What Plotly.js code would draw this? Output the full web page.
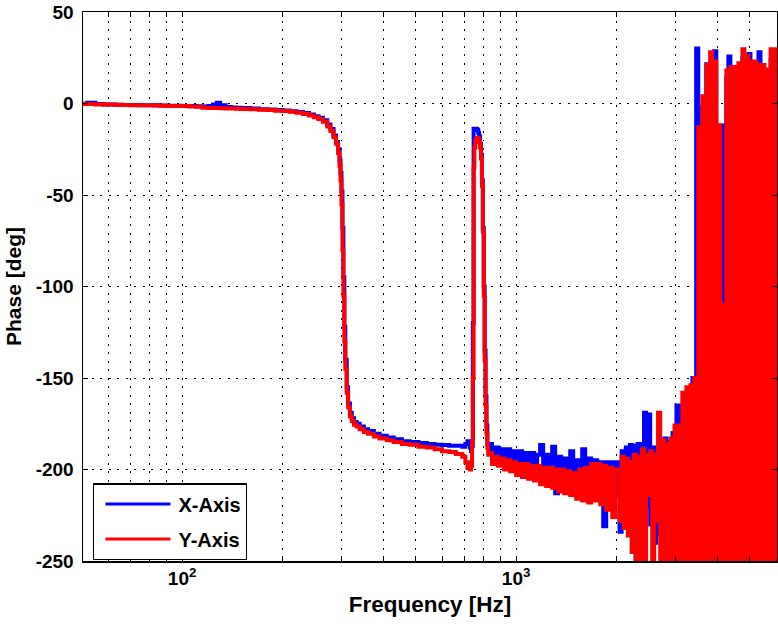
<!DOCTYPE html>
<html><head><meta charset="utf-8">
<script src="https://cdn.plot.ly/plotly-3.0.1.min.js"></script>
<style>html,body{margin:0;padding:0;background:#fff}#chart{width:778px;height:629px}</style>
</head><body><div id="chart"></div>
<script>
// Frequency bins (Hz), shared by both series
const freqHz = [50,52,55,58,60,63,66,70,74,78,82,86,90,95,100,105,110,115,120,124,127,130,135,140,145,150,160,170,180,190,200,210,220,230,240,248,256,264,272,278,284,289,293,296,298,300,302,304,306,308,311,314,318,322,327,333,340,350,360,375,390,410,430,455,480,510,540,570,600,630,660,690,705,715,722,728,733,738,742,746,750,755,760,765,770,775,780,785,790,795,800,805,810,815,820,825,
830,847,865,883,902,921,940,960,980,1000,1021,1042,1064,1086,1109,1132,1156,1180,1205,1230,1256,1282,1309,1336,1364,1393,1422,1452,1482,1513,1545,1577,1610,1644,1678,1713,1749,1786,1823,1861,1900,1940,1980,
2010,2040,2070,2100,2130,2160,2190,2220,2250,2280,2310,2345,2380,2415,2450,2485,2520,2555,2590,2625,2660,2700,2740,2780,2820,2860,2900,2940,2980,3020,3060,3100,3145,3190,3235,3280,3325,3370,3415,
3460,3510,3560,3610,3660,3710,3760,3810,3865,3920,3975,4030,4085,4120,4140,4160,4200,4260,4320,4380,4440,4500,4565,4630,4695,4760,4825,4890,4960,5030,5100,5170,5240,5315,5390,5465,5540,5620,5700,5780,5860,5940,6020,6060];

// X-Axis phase (deg)
const phaseX = [-0.2,0.4,-0.3,-0.5,-0.5,-0.7,-0.8,-0.8,-0.9,-1.0,-1.0,-1.1,-1.2,-1.2,-1.3,-1.4,-1.5,-1.7,-1.3,-0.5,0.4,-1.0,-1.9,-2.2,-2.3,-2.5,-2.8,-3.1,-3.3,-3.6,-3.8,-4.2,-4.6,-5.2,-6.0,-6.9,-7.8,-9.2,-11.5,-14,-17.5,-21,-25,-31,-38,-48,-68,-95,-122,-140,-155,-164,-169,-172,-174,-175,-176.5,-178,-179,-180.5,-181.5,-182.5,-183.5,-184.5,-185,-185.5,-186,-186.5,-186.6,-187,-187,-187.5,-186,-184.5,-186,-188,-190,-187,-120,-14,-13.8,-13.8,-14,-14.5,-16,-18,-22,-28,-42,-68,-100,-135,-160,-176,-186,-188,
-186,-192,-188,-193,-189,-194,-189,-195,-190,-196,-190,-204,-191,-197,-191,-198,-192,-186.6,-199,-192,-200,-187.5,-213,-193,-201,-194,-204,-190,-203,-195,-205,-189,-206,-194,-208,-195,-210,-196,-231,-196,-212,-196,-214,
-196,-234,-190,-215,-188,-220,-186.6,-245,-187,-250,-186,-225,-186,-169,-220,-170,-230,-188,-240,-192,-235,-184,-250,-183,-240,-185,-245,-180,-250,-165,-250,-165,-250,-160,-250,-158,-195,-150,-185,
30,-13,-250,-2,-250,21.4,-250,22,-250,28.5,-250,-14,-12,-12,-107,-12,-250,14,25.7,4,-250,15,-250,18,-250,25,-250,22,27,18,-250,18,-250,28,-250,16,-250,14,-250,24,-250,25,-250,24];

// Y-Axis phase (deg)
const phaseY = [-0.3,-0.3,-0.5,-0.4,-0.6,-0.7,-0.8,-0.9,-1.0,-1.0,-1.1,-1.2,-1.3,-1.3,-1.4,-1.6,-1.8,-2.3,-2.4,-2.5,-2.5,-2.6,-2.7,-2.8,-2.9,-3.0,-3.2,-3.4,-3.6,-3.9,-4.1,-4.5,-5.0,-5.7,-6.6,-7.5,-8.5,-10,-12.5,-15,-18.5,-22,-27,-34,-42,-55,-80,-105,-130,-145,-158,-166,-171,-173.5,-175.5,-176.5,-178,-179.5,-180.5,-182,-183,-184,-185,-186,-186.5,-187.5,-188,-189,-190,-190.5,-191.5,-193,-196,-199,-196,-200,-198,-185,-150,-35,-24,-20,-19,-18.8,-19,-21,-24,-30,-45,-70,-105,-140,-165,-180,-188,-192,
-191,-197,-193,-198,-194,-200,-195,-201,-196,-203,-197,-204,-197,-205,-198,-206,-198,-208,-199,-209,-199,-210,-200,-212,-200,-213,-201,-214,-202,-216,-200,-217,-199,-218,-197,-217,-197,-219,-198,-222,-199,-226,-200,
-200,-228,-193,-232,-194,-236,-196,-245,-192,-250,-193,-250,-189,-250,-192,-214,-190,-250,-192,-228,-169,-250,-184,-250,-186,-250,-183,-250,-176,-250,-176,-250,-158,-250,-155,-250,-154,-250,-150,
-250,-13,-250,4,-250,21,-250,28,-250,23,-250,-12,-250,-110,-250,-110,-250,18,-250,20,-250,20,-250,22,-250,29.6,-250,26,-250,23,-250,23,-250,21,-250,21,-250,18.6,-250,29.6,-250,29.6,-250,29];

const seriesNames = ['X-Axis', 'Y-Axis'];
const seriesColors = ['#0000ff', '#ff0000'];
const yTickVals = [-250, -200, -150, -100, -50, 0, 50];
const yTickText = ['-250', '-200', '-150', '-100', '-50', '0', '50'];
const xMajorVals = [100, 1000];
const xMajorText = ['10<sup>2</sup>', '10<sup>3</sup>'];
const xMinorVals = [60,70,80,90,200,300,400,500,600,700,800,900,2000,3000,4000,5000,6000];

const FONT = 'Liberation Sans, Arial, Helvetica, sans-serif';
const gridDash = '2px,6.5px';

const data = [phaseX, phaseY].map((ph, i) => ({
  type: 'scatter', mode: 'lines', name: seriesNames[i],
  x: freqHz, y: ph, legendgroup: 'g' + i,
  line: {color: seriesColors[i], width: 4, shape: 'hv', simplify: false}
}));

const axisCommon = {
  showline: true, linecolor: '#000', linewidth: 1.5, mirror: 'ticks',
  ticks: 'inside', ticklen: 5, tickwidth: 1, tickcolor: '#000',
  showgrid: true, gridcolor: '#000', gridwidth: 1, griddash: gridDash,
  zeroline: false, automargin: false,
  tickfont: {family: FONT, size: 19, color: '#000', weight: 'bold'}
};

const layout = {
  width: 778, height: 629,
  margin: {l: 83, r: 1, t: 12, b: 68, pad: 0},
  paper_bgcolor: '#fff', plot_bgcolor: '#fff',
  showlegend: true,
  xaxis: Object.assign({}, axisCommon, {
    type: 'log', range: [Math.log10(50.5), Math.log10(6040)],
    tickmode: 'array', tickvals: xMajorVals, ticktext: xMajorText,
    minor: {tickmode: 'array', tickvals: xMinorVals, ticks: 'inside', ticklen: 5, tickcolor: '#000',
            showgrid: true, gridcolor: '#000', gridwidth: 1, griddash: gridDash},
    title: {text: 'Frequency [Hz]', font: {family: FONT, size: 22.5, color: '#000', weight: 'bold'}, standoff: 8}
  }),
  yaxis: Object.assign({}, axisCommon, {
    range: [-250, 50], tickmode: 'array', tickvals: yTickVals, ticktext: yTickText,
    ticklabelstandoff: 4,
    title: {text: 'Phase [deg]', font: {family: FONT, size: 21, color: '#000', weight: 'bold'}, standoff: 8}
  }),
  legend: {
    x: 0.0148, y: 0.1415, xanchor: 'left', yanchor: 'top',
    bgcolor: '#fff', bordercolor: '#000', borderwidth: 1.2,
    font: {family: FONT, size: 20, color: '#000', weight: 'bold'},
    itemwidth: 74, traceorder: 'grouped', tracegroupgap: 6
  }
};

Plotly.newPlot('chart', data, layout, {staticPlot: true, displayModeBar: false}).then(gd => {
  gd.querySelectorAll('.legend path.js-line').forEach(p => {
    p.setAttribute('d', 'M11,0h65');
    p.style.strokeWidth = '3px';
  });
});
</script>
</body></html>
